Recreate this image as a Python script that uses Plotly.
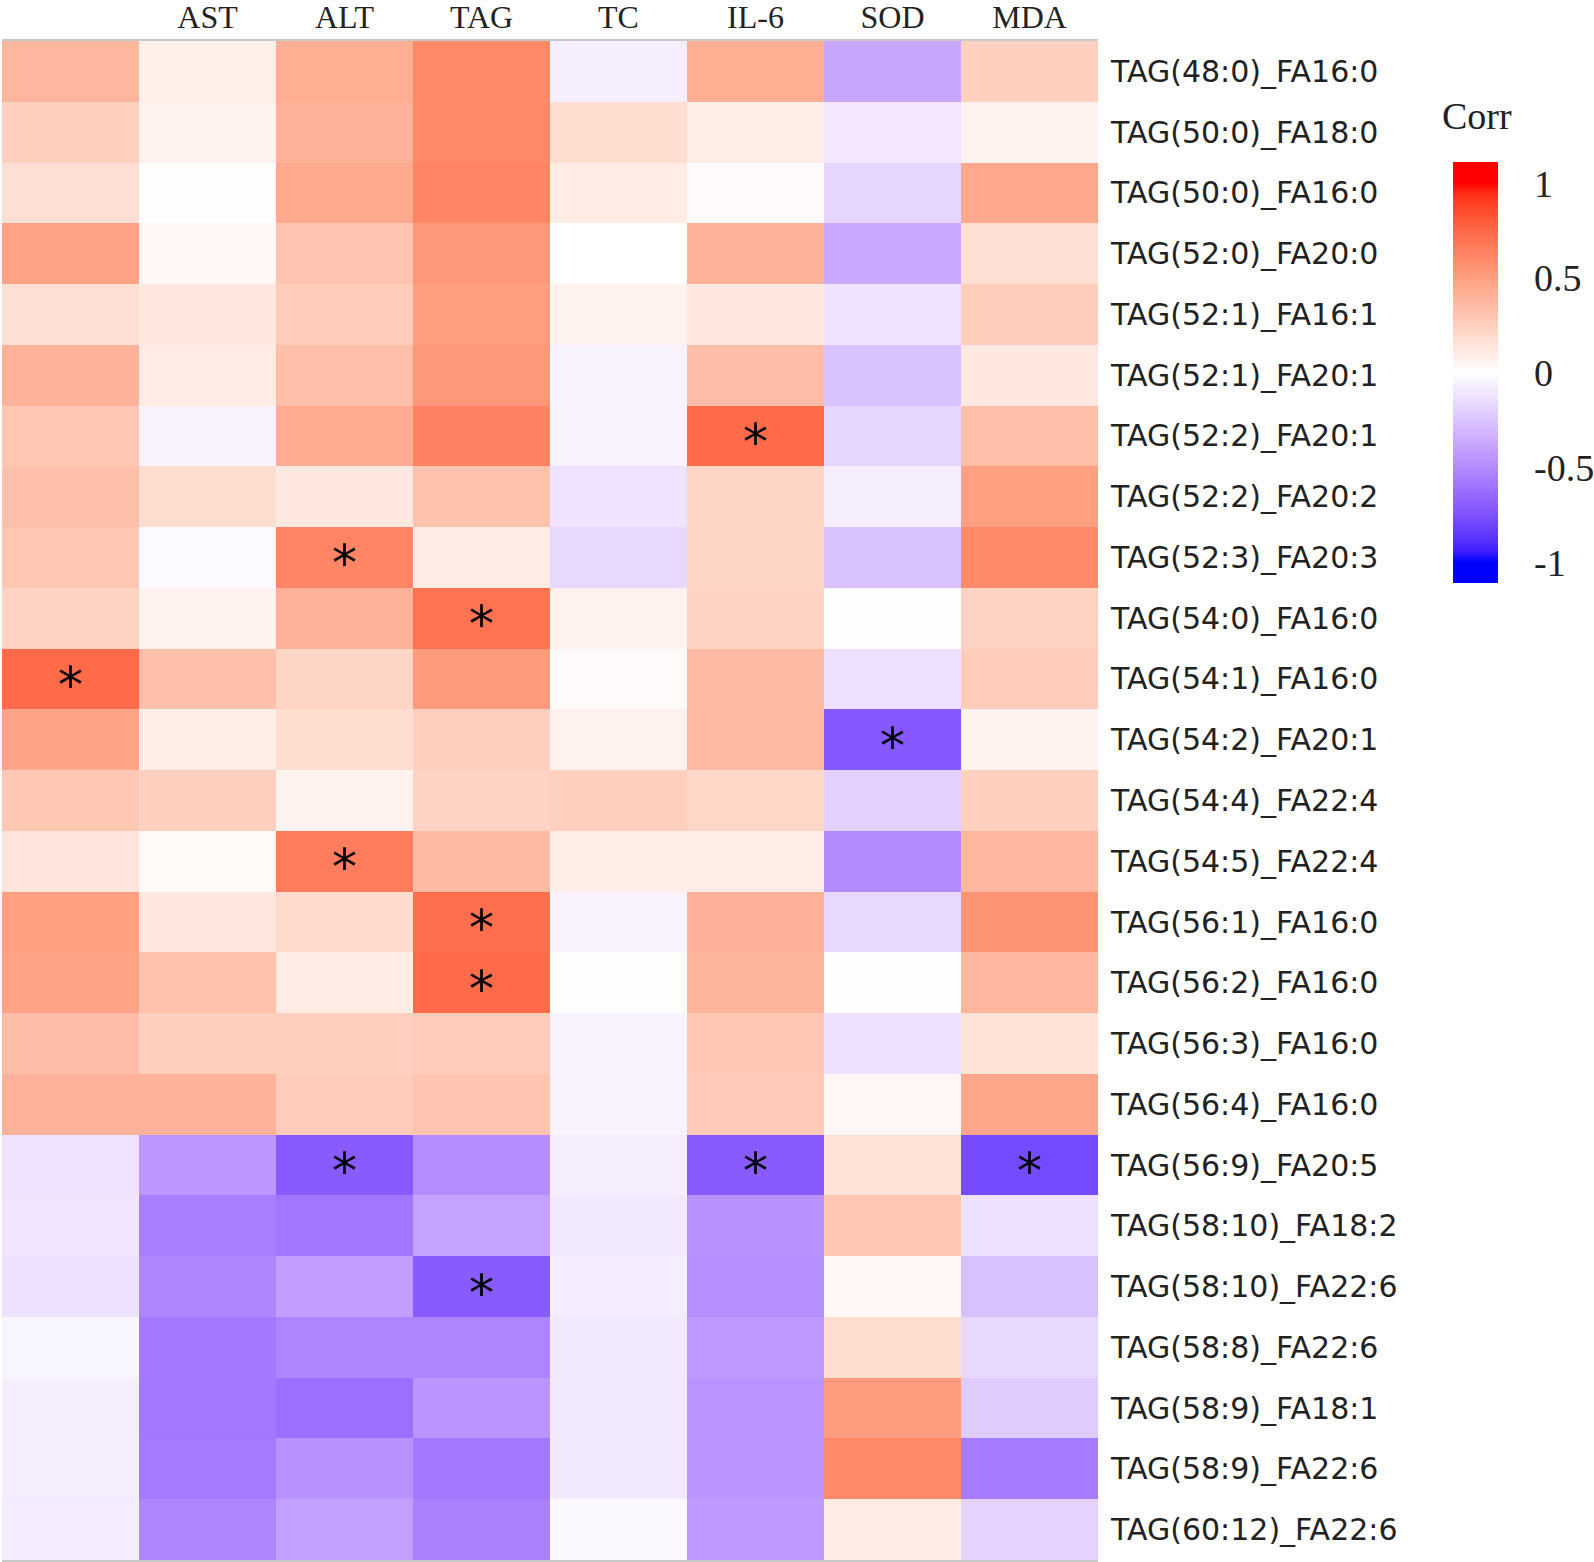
import numpy as np
import plotly.graph_objects as go

col_labels = ["", "AST", "ALT", "TAG", "TC", "IL-6", "SOD", "MDA"]
row_labels = [
    "TAG(48:0)_FA16:0", "TAG(50:0)_FA18:0", "TAG(50:0)_FA16:0", "TAG(52:0)_FA20:0",
    "TAG(52:1)_FA16:1", "TAG(52:1)_FA20:1", "TAG(52:2)_FA20:1", "TAG(52:2)_FA20:2",
    "TAG(52:3)_FA20:3", "TAG(54:0)_FA16:0", "TAG(54:1)_FA16:0", "TAG(54:2)_FA20:1",
    "TAG(54:4)_FA22:4", "TAG(54:5)_FA22:4", "TAG(56:1)_FA16:0", "TAG(56:2)_FA16:0",
    "TAG(56:3)_FA16:0", "TAG(56:4)_FA16:0", "TAG(56:9)_FA20:5", "TAG(58:10)_FA18:2",
    "TAG(58:10)_FA22:6", "TAG(58:8)_FA22:6", "TAG(58:9)_FA18:1", "TAG(58:9)_FA22:6",
    "TAG(60:12)_FA22:6",
]
corr = [
    [0.38, 0.08, 0.42, 0.60, -0.07, 0.42, -0.38, 0.25],
    [0.25, 0.07, 0.40, 0.60, 0.18, 0.09, -0.10, 0.07],
    [0.17, 0.01, 0.44, 0.62, 0.10, 0.02, -0.18, 0.45],
    [0.48, 0.04, 0.31, 0.53, 0.00, 0.40, -0.37, 0.17],
    [0.17, 0.12, 0.27, 0.50, 0.07, 0.12, -0.12, 0.26],
    [0.40, 0.10, 0.34, 0.53, -0.05, 0.35, -0.26, 0.12],
    [0.30, -0.05, 0.43, 0.63, -0.05, 0.74, -0.18, 0.34],
    [0.33, 0.18, 0.12, 0.32, -0.12, 0.22, -0.07, 0.49],
    [0.30, -0.02, 0.62, 0.10, -0.17, 0.22, -0.26, 0.60],
    [0.23, 0.06, 0.40, 0.70, 0.07, 0.23, -0.01, 0.23],
    [0.74, 0.33, 0.22, 0.52, 0.02, 0.36, -0.13, 0.27],
    [0.47, 0.09, 0.18, 0.25, 0.07, 0.37, -0.72, 0.06],
    [0.29, 0.25, 0.06, 0.23, 0.25, 0.21, -0.20, 0.25],
    [0.14, 0.03, 0.66, 0.36, 0.09, 0.09, -0.50, 0.38],
    [0.49, 0.12, 0.19, 0.72, -0.05, 0.41, -0.17, 0.55],
    [0.48, 0.32, 0.10, 0.74, 0.005, 0.39, -0.005, 0.38],
    [0.35, 0.25, 0.25, 0.27, -0.05, 0.29, -0.13, 0.15],
    [0.40, 0.40, 0.27, 0.31, -0.05, 0.28, 0.04, 0.46],
    [-0.12, -0.45, -0.71, -0.49, -0.07, -0.71, 0.15, -0.78],
    [-0.11, -0.56, -0.59, -0.40, -0.09, -0.47, 0.30, -0.13],
    [-0.13, -0.53, -0.42, -0.71, -0.08, -0.48, 0.04, -0.27],
    [-0.04, -0.58, -0.53, -0.53, -0.09, -0.44, 0.18, -0.17],
    [-0.07, -0.58, -0.62, -0.46, -0.09, -0.46, 0.51, -0.22],
    [-0.07, -0.57, -0.47, -0.58, -0.09, -0.46, 0.60, -0.57],
    [-0.08, -0.53, -0.41, -0.55, -0.03, -0.44, 0.10, -0.19],
]
signif_rows = [
    "TAG(52:2)_FA20:1", "TAG(52:3)_FA20:3", "TAG(54:0)_FA16:0", "TAG(54:1)_FA16:0",
    "TAG(54:2)_FA20:1", "TAG(54:5)_FA22:4", "TAG(56:1)_FA16:0", "TAG(56:2)_FA16:0",
    "TAG(56:9)_FA20:5", "TAG(56:9)_FA20:5", "TAG(56:9)_FA20:5", "TAG(58:10)_FA22:6",
]
signif_cols = ["IL-6", "ALT", "TAG", "", "SOD", "ALT", "TAG", "TAG", "ALT", "IL-6", "MDA", "TAG"]
cbar_ticks = [-1, -0.5, 0, 0.5, 1]

# ---- Lab interpolation colorscale (ggplot2 gradient2 style: blue-white-red) ----
def hex_to_rgb(h):
    h = h.lstrip("#")
    return np.array([int(h[i:i + 2], 16) for i in (0, 2, 4)]) / 255.0

M = np.array([[0.4124, 0.3576, 0.1805], [0.2126, 0.7152, 0.0722], [0.0193, 0.1192, 0.9505]])
Minv = np.linalg.inv(M)
WP = np.array([0.95047, 1.0, 1.08883])

def rgb_to_lab(c):
    lin = np.where(c <= 0.04045, c / 12.92, ((c + 0.055) / 1.055) ** 2.4)
    xyz = M @ lin / WP
    f = np.where(xyz > 0.008856, np.cbrt(xyz), 7.787 * xyz + 16 / 116)
    return np.array([116 * f[1] - 16, 500 * (f[0] - f[1]), 200 * (f[1] - f[2])])

def lab_to_hex(lab):
    L, a, b = lab
    fy = (L + 16) / 116
    fx = fy + a / 500
    fz = fy - b / 200
    f = np.array([fx, fy, fz])
    xyz = np.where(f ** 3 > 0.008856, f ** 3, (f - 16 / 116) / 7.787) * WP
    lin = np.clip(Minv @ xyz, 0, 1)
    c = np.where(lin <= 0.0031308, 12.92 * lin, 1.055 * lin ** (1 / 2.4) - 0.055)
    c = np.clip(np.round(c * 255), 0, 255).astype(int)
    return "#%02x%02x%02x" % tuple(c)

lab_lo = rgb_to_lab(hex_to_rgb("#0000ff"))
lab_mid = rgb_to_lab(hex_to_rgb("#ffffff"))
lab_hi = rgb_to_lab(hex_to_rgb("#ff0000"))

def color_at(v):
    v = max(-1.0, min(1.0, v))
    if v < 0:
        return lab_to_hex(lab_mid + (lab_lo - lab_mid) * (-v))
    return lab_to_hex(lab_mid + (lab_hi - lab_mid) * v)

ZLIM = 1.11
colorscale = [[0.0, color_at(-1)]]
for v in np.linspace(-1, 1, 41):
    colorscale.append([float((v + ZLIM) / (2 * ZLIM)), color_at(float(v))])
colorscale.append([1.0, color_at(1)])

W, H = 1594, 1562
L_, R_, T_, B_ = 2, 1098, 41, 1560

fig = go.Figure()
fig.add_trace(go.Heatmap(
    z=corr,
    x=list(range(len(col_labels))),
    y=row_labels,
    colorscale=colorscale,
    zmin=-ZLIM, zmax=ZLIM,
    xgap=0, ygap=0,
    hoverinfo="skip",
    colorbar=dict(
        xref="container", yref="container",
        x=1453 / W, xanchor="left",
        y=1 - 167 / H, yanchor="top",
        len=421, lenmode="pixels",
        thickness=45, thicknessmode="pixels",
        outlinewidth=0,
        tickvals=cbar_ticks,
        ticktext=[("%g" % t) for t in cbar_ticks],
        ticks="outside", ticklen=29, tickcolor="rgba(0,0,0,0)", tickwidth=1,
        tickfont=dict(family="Liberation Serif", size=38, color="#222"),
        ypad=0, xpad=0,
    ),
))

annotations = []
for r, c in zip(signif_rows, signif_cols):
    annotations.append(dict(
        text="*", x=col_labels.index(c), y=r, xref="x", yref="y",
        showarrow=False, xanchor="center", yanchor="middle", yshift=-6,
        font=dict(family="DejaVu Sans", size=50, color="black"),
    ))
annotations.append(dict(
    text="Corr", xref="paper", yref="paper",
    x=(1477 - L_) / (R_ - L_), y=(B_ - 116) / (B_ - T_),
    xanchor="center", yanchor="middle", showarrow=False,
    font=dict(family="Liberation Serif", size=38, color="#222"),
))

fig.update_layout(
    width=W, height=H,
    margin=dict(l=L_, r=W - R_, t=T_, b=H - B_, pad=0),
    plot_bgcolor="white", paper_bgcolor="white",
    xaxis=dict(
        side="top", tickvals=list(range(len(col_labels))), ticktext=col_labels,
        tickfont=dict(family="Liberation Serif", size=32, color="#222"),
        showgrid=False, zeroline=False, ticks="", ticklabelstandoff=-2,
        showline=True, linecolor="#c8c8c8", linewidth=2, mirror=True,
        range=[-0.5, len(col_labels) - 0.5], automargin=False,
    ),
    yaxis=dict(
        side="right", autorange="reversed",
        tickfont=dict(family="DejaVu Sans", size=30, color="#222"),
        showgrid=False, zeroline=False, ticks="", ticklabelstandoff=12,
        showline=False, automargin=False,
    ),
    annotations=annotations,
)

fig.write_html(
    "out.html",
    config={"displayModeBar": False},
    post_script="document.body.style.margin='0px';document.body.style.overflow='hidden';",
)
